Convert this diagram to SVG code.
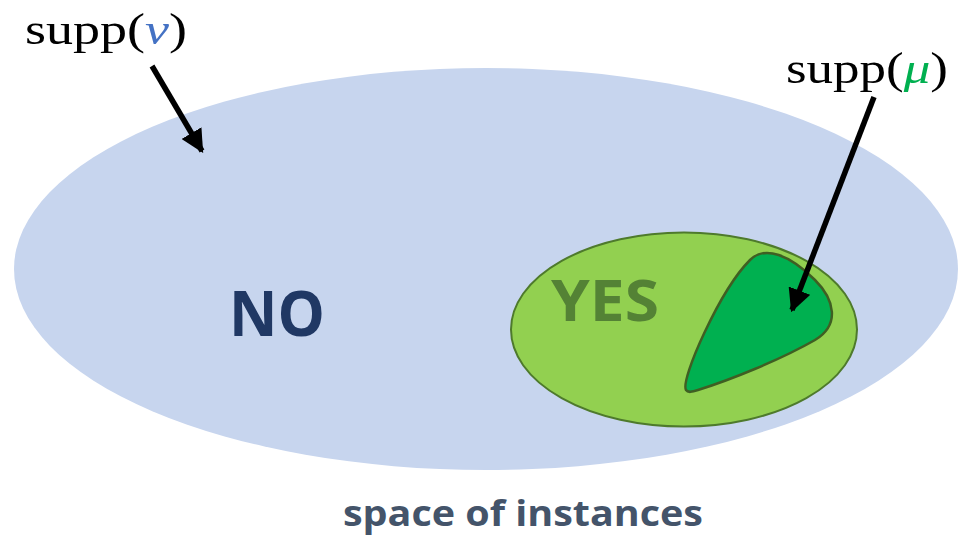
<svg xmlns="http://www.w3.org/2000/svg" width="973" height="537" viewBox="0 0 973 537">
<defs>
<marker id="ah" viewBox="0 0 10 10" refX="9" refY="5" markerWidth="4.2" markerHeight="4.2" orient="auto" markerUnits="strokeWidth">
<path d="M0,0 L10,5 L0,10 z" fill="#000"/>
</marker>
<style>
.serif{font-family:"Liberation Serif","DejaVu Serif",serif;font-size:44px;fill:#000}
.bold{font-family:"Open Sans","Liberation Sans",sans-serif;font-weight:bold}
.conn{stroke:#000;stroke-width:5.5;fill:none;marker-end:url(#ah)}
</style>
</defs>
<rect width="973" height="537" fill="#fff"/>
<g id="space">
<ellipse cx="486" cy="269" rx="472" ry="201" fill="#C7D5EE"/>
<text class="bold" x="277" y="336" font-size="62" fill="#203864" text-anchor="middle" textLength="96" lengthAdjust="spacingAndGlyphs">NO</text>
<text class="bold" x="523" y="526" font-size="36" fill="#44546A" text-anchor="middle" textLength="360" lengthAdjust="spacingAndGlyphs">space of instances</text>
</g>
<g id="yes">
<ellipse cx="684" cy="329.5" rx="173" ry="97" fill="#92D050" stroke="#4E7A2C" stroke-width="2"/>
<text class="bold" x="605" y="321" font-size="58" fill="#548235" text-anchor="middle" textLength="108" lengthAdjust="spacingAndGlyphs">YES</text>
</g>
<g id="mu-support">
<path d="M686,390 C680,380 720,290 750,260 C765,245 790,255 815,280 C835,300 840,325 815,340 C780,360 730,380 698,390 C692,392 688,393 686,390 Z" fill="#00B050" stroke="#3F5F23" stroke-width="2.5"/>
</g>
<g id="label-nu">
<text class="serif" x="25" y="44" textLength="162" lengthAdjust="spacingAndGlyphs">supp(<tspan fill="#4472C4" font-style="italic">ν</tspan>)</text>
</g>
<g id="label-mu">
<text class="serif" x="786" y="83" textLength="162" lengthAdjust="spacingAndGlyphs">supp(<tspan fill="#00B050" font-style="italic">μ</tspan>)</text>
</g>
<g id="connectors">
<line class="conn" x1="152" y1="66" x2="202" y2="151"/>
<line class="conn" x1="874" y1="97" x2="792" y2="310"/>
</g>
</svg>
